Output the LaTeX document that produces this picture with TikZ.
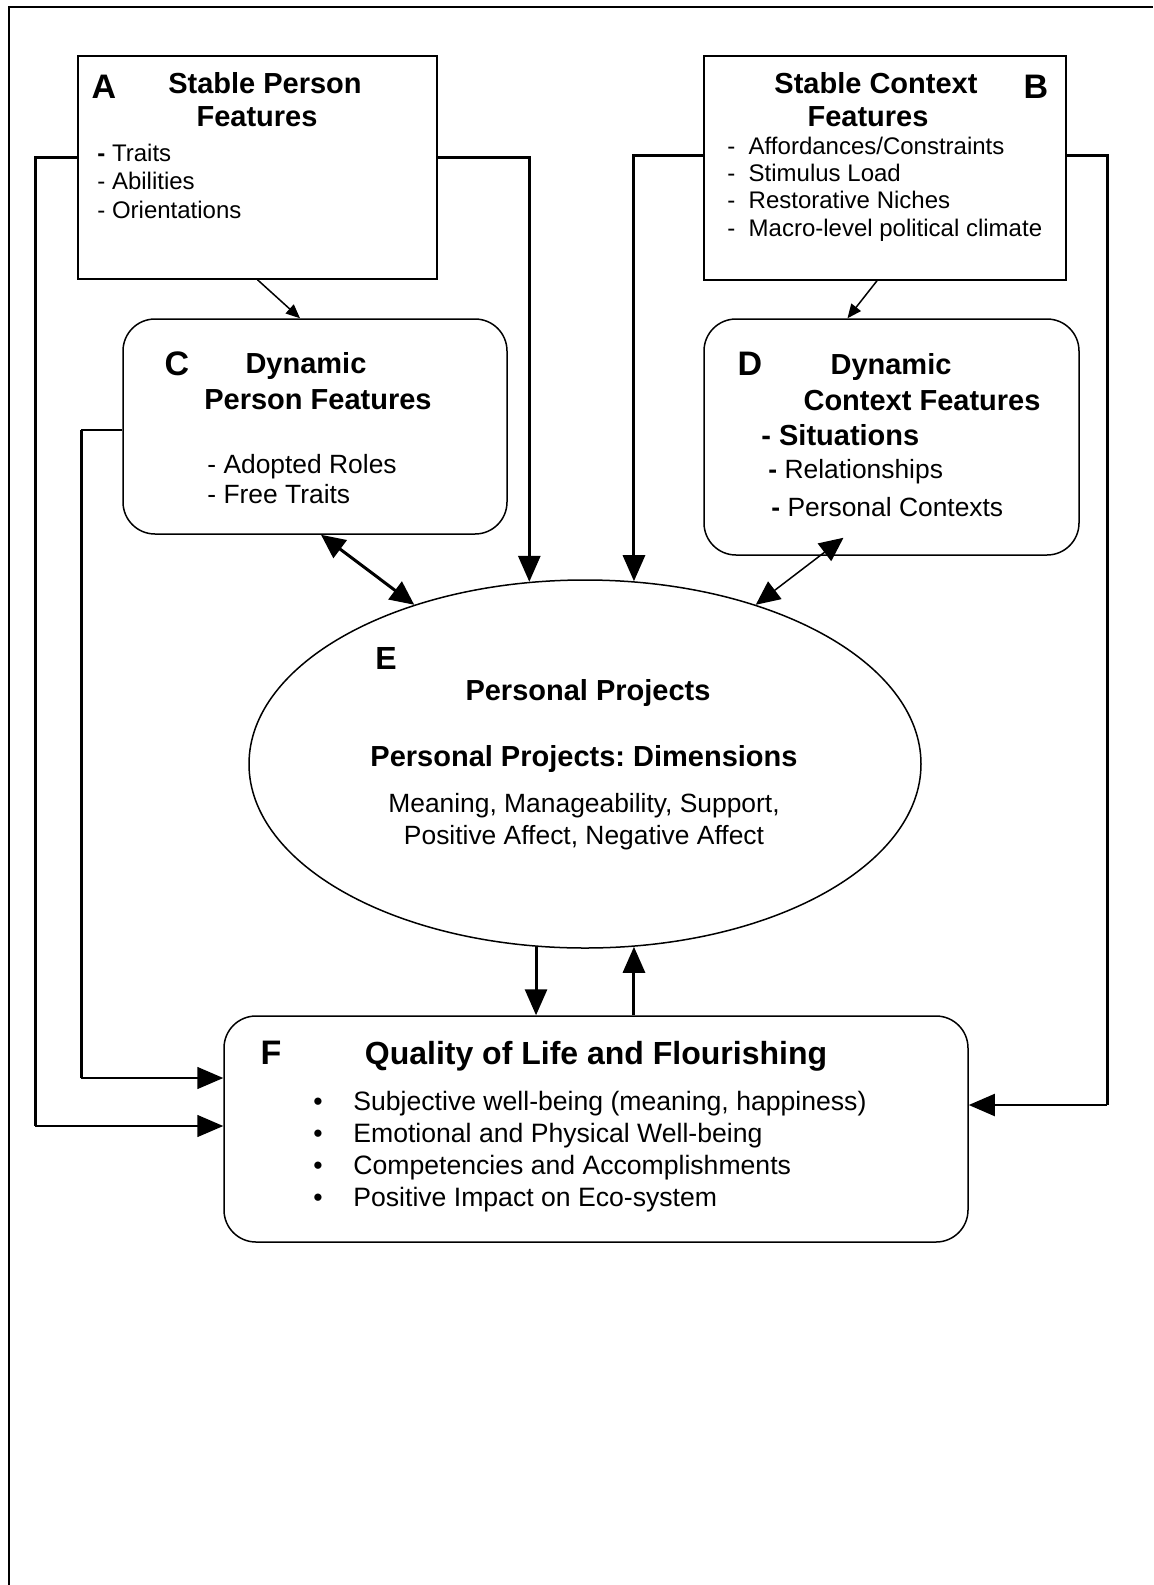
\documentclass[tikz,border=0pt]{standalone}
\usepackage{fontspec}
\setmainfont{Liberation Sans}
\usetikzlibrary{arrows.meta,shapes.geometric}
\frenchspacing

\tikzset{
  sqbox/.style={draw, line width=0.75pt, inner sep=0pt},
  rbox/.style={draw, line width=0.75pt, rounded corners=16pt, inner sep=0pt},
  heavy/.style={line width=1.5pt},
  light/.style={line width=0.75pt},
  bigtip/.style={-{Triangle[length=13pt,width=11pt]}},
  smalltip/.style={-{Triangle[length=7pt,width=6pt]}},
  dbltip/.style={{Triangle[length=12pt,width=11pt]}-{Triangle[length=12pt,width=11pt]}},
  tag/.style={font=\fontsize{17}{20}\selectfont\bfseries, inner sep=0pt},
  ttl/.style={font=\fontsize{14.5}{17}\selectfont\bfseries, inner sep=0pt},
  itm/.style={align=left, anchor=west, inner sep=0pt}
}

\begin{document}
\begin{tikzpicture}[x=0.5pt,y=-0.5pt]
\useasboundingbox (0,0) rectangle (1153,1585);
\draw[line width=1.2pt] (9,1585) -- (9,7) -- (1153,7);

% boxes
\node[sqbox, minimum width=179.5pt, minimum height=111.5pt] (A) at (257.5,167.5) {};
\node[sqbox, minimum width=181pt, minimum height=112pt] (B) at (885,168) {};
\node[rbox, minimum width=192pt, minimum height=107.5pt] (C) at (315,426.5) {};
\node[rbox, minimum width=187.5pt, minimum height=118pt] (D) at (891.5,437) {};
\node[draw, ellipse, line width=0.75pt, minimum width=336pt, minimum height=184pt, inner sep=0pt] (E) at (585,764) {};
\node[rbox, minimum width=372pt, minimum height=113pt] (F) at (596,1129) {};

% A
\node[tag] (tA) at (104,87) {A};
\node[ttl] (tA1) at (265,83) {Stable Person};
\node[ttl] (tA2) at (257,117) {Features};
\node[itm, font=\fontsize{12}{14.25}\selectfont] (lA) at (97,181) {\textbf{-} Traits\\- Abilities\\- Orientations};

% B
\node[tag] (tB) at (1036,87) {B};
\node[ttl] (tB1) at (876,83) {Stable Context};
\node[ttl] (tB2) at (868,117) {Features};
\node[itm, font=\fontsize{12}{13.7}\selectfont] (lB) at (727,189)
  {-\ \ Affordances/Constraints\\-\ \ Stimulus Load\\-\ \ Restorative Niches\\-\ \ Macro-level political climate};

% C
\node[tag] (tC) at (177,364) {C};
\node[ttl] (tC1) at (306,366) {Dynamic};
\node[ttl] (tC2) at (318,400) {Person Features};
\node[itm, font=\fontsize{13.2}{15}\selectfont] (lC) at (207,479) {- Adopted Roles\\- Free Traits};

% D
\node[tag] (tD) at (750,364) {D};
\node[ttl] (tD1) at (891,367) {Dynamic};
\node[ttl] (tD2) at (922,401) {Context Features};
\node[ttl, anchor=west] (lD1) at (761,435) {- Situations};
\node[itm, font=\fontsize{13.2}{15}\selectfont] (lD2) at (768,472) {\textbf{-} Relationships};
\node[itm, font=\fontsize{13.2}{15}\selectfont] (lD3) at (771,507) {\textbf{-} Personal Contexts};

% E
\node[tag, font=\fontsize{16}{19}\selectfont\bfseries] (tE) at (386,658) {E};
\node[ttl] (tE1) at (588,693) {Personal Projects};
\node[ttl] (tE2) at (584,759) {Personal Projects: Dimensions};
\node[font=\fontsize{13.2}{16}\selectfont, align=center, inner sep=0pt] (tE3) at (584,822)
  {Meaning, Manageability, Support,\\Positive Affect, Negative Affect};

% F
\node[tag] (tF) at (271,1053) {F};
\node[ttl, font=\fontsize{16}{19}\selectfont\bfseries] (tF1) at (596,1056) {Quality of Life and Flourishing};
\node[itm, font=\fontsize{13.3}{16}\selectfont] (lF) at (313,1152)
  {\makebox[20pt][l]{\textbullet}Subjective well-being (meaning, happiness)\\
   \makebox[20pt][l]{\textbullet}Emotional and Physical Well-being\\
   \makebox[20pt][l]{\textbullet}Competencies and Accomplishments\\
   \makebox[20pt][l]{\textbullet}Positive Impact on Eco-system};

% corners of the long connectors
\coordinate (lo1) at (35,157);
\coordinate (lo2) at (35,1126);
\coordinate (li1) at (81,430);
\coordinate (li2) at (81,1078);
\coordinate (ro1) at (1107,155);
\coordinate (ro2) at (1107,1105);

% A and C to F
\draw[heavy] (A.west |- lo1) -- (lo1) -- (lo2);
\draw[light,bigtip] (lo2) -- (lo2 -| F.west);
\draw[light] (C.west |- li1) -- (li1);
\draw[heavy] (li1) -- (li2);
\draw[light,bigtip] (li2) -- (li2 -| F.west);

% B to F
\draw[heavy] (B.east |- ro1) -- (ro1) -- (ro2);
\draw[line width=1pt,bigtip] (ro2) -- (ro2 -| F.east);

% A and B to E
\draw[heavy,bigtip] (A.east |- lo1) -| (E.107);
\draw[heavy,bigtip] (B.west |- ro1) -| (E.75);

% stable to dynamic
\draw[light,smalltip] (A.south) -- ([xshift=-7.5pt]C.north);
\draw[light,smalltip] ([xshift=-4pt]B.south) -- ([xshift=-22pt]D.north);

% dynamic to E
\draw[heavy,dbltip] ([xshift=3pt]C.south) -- (E.137);
\draw[light,dbltip] ([xshift=-24pt,yshift=9pt]D.south) -- (E.43);

% E and F
\draw[heavy,bigtip] (E.255.5) -- (E.255.5 |- F.north);
\draw[heavy,bigtip] (E.285 |- F.north) -- (E.285);
\end{tikzpicture}
\end{document}
